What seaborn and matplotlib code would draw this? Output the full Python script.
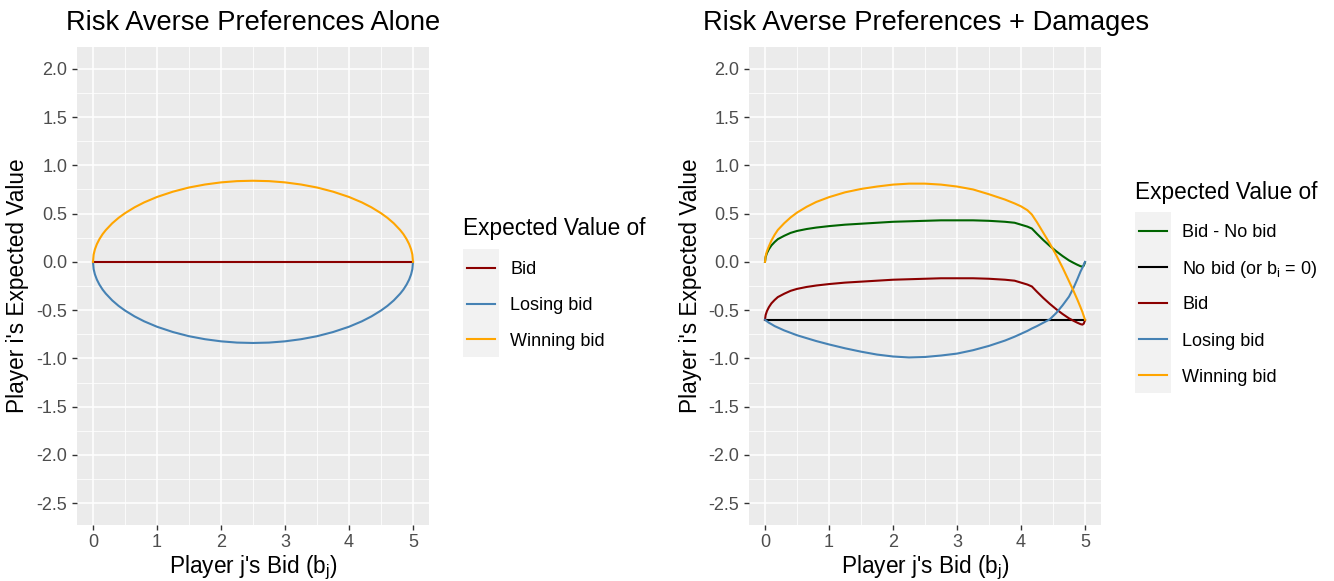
import numpy as np
import pandas as pd
import matplotlib
matplotlib.use("Agg")
import matplotlib.pyplot as plt
import seaborn as sns
from matplotlib.lines import Line2D
from matplotlib.patches import Rectangle

# ---------------- Left panel: risk averse preferences alone ----------------
bid_alone = [0, 0.01, 0.03, 0.06, 0.1, 0.15, 0.2, 0.3, 0.4, 0.5, 0.65, 0.8, 1.0,
             1.25, 1.5, 1.75, 2.0, 2.25, 2.5, 2.75, 3.0, 3.25, 3.5, 3.75, 4.0,
             4.2, 4.35, 4.5, 4.6, 4.7, 4.8, 4.85, 4.9, 4.94, 4.97, 4.99, 5.0]
winning_alone = [0.0, 0.075, 0.130, 0.183, 0.235, 0.287, 0.329, 0.399, 0.456, 0.504,
                 0.565, 0.616, 0.672, 0.727, 0.770, 0.801, 0.823, 0.836, 0.840,
                 0.836, 0.823, 0.801, 0.770, 0.727, 0.672, 0.616, 0.565, 0.504,
                 0.456, 0.399, 0.329, 0.287, 0.235, 0.183, 0.130, 0.075, 0.0]
losing_alone = [-0.0, -0.075, -0.130, -0.183, -0.235, -0.287, -0.329, -0.399, -0.456,
                -0.504, -0.565, -0.616, -0.672, -0.727, -0.770, -0.801, -0.823,
                -0.836, -0.840, -0.836, -0.823, -0.801, -0.770, -0.727, -0.672,
                -0.616, -0.565, -0.504, -0.456, -0.399, -0.329, -0.287, -0.235,
                -0.183, -0.130, -0.075, -0.0]
expected_alone = [0.0] * len(bid_alone)

# ---------------- Right panel: risk averse preferences + damages ----------------
bid_damages = [0, 0.01, 0.03, 0.06, 0.1, 0.15, 0.2, 0.3, 0.4, 0.5, 0.65, 0.8, 1.0,
               1.25, 1.5, 1.75, 2.0, 2.25, 2.5, 2.75, 3.0, 3.25, 3.5, 3.75, 3.9,
               4.0, 4.1, 4.17, 4.25, 4.35, 4.45, 4.55, 4.65, 4.75, 4.82, 4.88,
               4.93, 4.96, 4.98, 5.0]
bid_minus_nobid = [0.0, 0.05, 0.09, 0.13, 0.17, 0.205, 0.235, 0.27, 0.30, 0.32,
                   0.34, 0.355, 0.37, 0.385, 0.395, 0.405, 0.415, 0.42, 0.425,
                   0.43, 0.43, 0.43, 0.425, 0.415, 0.405, 0.385, 0.365, 0.345,
                   0.29, 0.225, 0.165, 0.11, 0.06, 0.015, -0.01, -0.03, -0.045,
                   -0.05, -0.04, -0.005]
no_bid = [-0.6] * len(bid_damages)
expected_damages = [-0.60, -0.55, -0.51, -0.47, -0.43, -0.395, -0.365, -0.33, -0.30,
                    -0.28, -0.26, -0.245, -0.23, -0.215, -0.205, -0.195, -0.185,
                    -0.18, -0.175, -0.17, -0.17, -0.17, -0.175, -0.185, -0.195,
                    -0.215, -0.235, -0.255, -0.31, -0.375, -0.435, -0.49, -0.54,
                    -0.585, -0.61, -0.63, -0.645, -0.65, -0.64, -0.605]
losing_damages = [-0.60, -0.605, -0.615, -0.63, -0.645, -0.665, -0.68, -0.71, -0.735,
                  -0.76, -0.79, -0.82, -0.855, -0.895, -0.93, -0.96, -0.98, -0.99,
                  -0.985, -0.97, -0.95, -0.915, -0.87, -0.815, -0.775, -0.745,
                  -0.715, -0.69, -0.665, -0.63, -0.595, -0.53, -0.45, -0.36, -0.27,
                  -0.18, -0.10, -0.06, -0.03, 0.0]
winning_damages = [0.0, 0.06, 0.11, 0.16, 0.22, 0.28, 0.33, 0.40, 0.46, 0.51, 0.57,
                   0.62, 0.67, 0.72, 0.755, 0.78, 0.80, 0.81, 0.81, 0.80, 0.78,
                   0.75, 0.70, 0.645, 0.605, 0.575, 0.535, 0.49, 0.41, 0.30, 0.19,
                   0.07, -0.06, -0.20, -0.30, -0.39, -0.47, -0.52, -0.56, -0.60]

x_ticks = [0, 1, 2, 3, 4, 5]
y_ticks = [2.0, 1.5, 1.0, 0.5, 0.0, -0.5, -1.0, -1.5, -2.0, -2.5]
y_tick_labels = ["2.0", "1.5", "1.0", "0.5", "0.0", "-0.5", "-1.0", "-1.5", "-2.0", "-2.5"]

NOBID = "No bid (or b$_{\\mathrm{i}}$ = 0)"
palette = {
    "Bid - No bid": "#006400",
    NOBID: "#000000",
    "Bid": "#8B0000",
    "Losing bid": "#4682B4",
    "Winning bid": "#FFA500",
}

left_df = pd.concat([
    pd.DataFrame({"bid": bid_alone, "value": expected_alone, "series": "Bid"}),
    pd.DataFrame({"bid": bid_alone, "value": losing_alone, "series": "Losing bid"}),
    pd.DataFrame({"bid": bid_alone, "value": winning_alone, "series": "Winning bid"}),
], ignore_index=True)

right_df = pd.concat([
    pd.DataFrame({"bid": bid_damages, "value": bid_minus_nobid, "series": "Bid - No bid"}),
    pd.DataFrame({"bid": bid_damages, "value": no_bid, "series": NOBID}),
    pd.DataFrame({"bid": bid_damages, "value": expected_damages, "series": "Bid"}),
    pd.DataFrame({"bid": bid_damages, "value": losing_damages, "series": "Losing bid"}),
    pd.DataFrame({"bid": bid_damages, "value": winning_damages, "series": "Winning bid"}),
], ignore_index=True)

plt.rcParams["font.family"] = ["Liberation Sans", "DejaVu Sans"]
plt.rcParams["mathtext.fontset"] = "custom"
plt.rcParams["mathtext.rm"] = "Liberation Sans"
plt.rcParams["mathtext.it"] = "Liberation Sans:italic"
plt.rcParams["axes.unicode_minus"] = False

W, H = 1334, 581
fig = plt.figure(figsize=(W / 100, H / 100), dpi=100)

TITLE_SIZE = 19.6
AXIS_TITLE_SIZE = 16.3
TICK_SIZE = 13
LEGEND_TITLE_SIZE = 16.3
LEGEND_TEXT_SIZE = 13


def fx(px):
    return px / W


def fy(py):
    return 1 - py / H


def style_axes(ax):
    ax.set_facecolor("#EBEBEB")
    for s in ax.spines.values():
        s.set_visible(False)
    ax.set_xlim(-0.25, 5.25)
    ax.set_ylim(-2.725, 2.225)
    ax.set_xticks(x_ticks)
    ax.set_xticklabels([str(t) for t in x_ticks])
    ax.set_yticks(y_ticks)
    ax.set_yticklabels(y_tick_labels)
    ax.set_xticks(np.arange(0.5, 5, 1.0), minor=True)
    ax.set_yticks(np.arange(-2.25, 2.0, 0.5), minor=True)
    ax.grid(which="major", color="white", linewidth=1.1)
    ax.grid(which="minor", color="white", linewidth=0.55)
    ax.set_axisbelow(True)
    ax.tick_params(which="major", length=3.5, width=1.0, color="#333333",
                   labelcolor="#4D4D4D", labelsize=TICK_SIZE)
    ax.tick_params(axis="y", pad=3.5)
    ax.tick_params(axis="x", pad=3)
    ax.tick_params(which="minor", length=0)
    ax.set_xlabel("")
    ax.set_ylabel("")


panels = [
    (77, left_df, ["Bid", "Losing bid", "Winning bid"], "Risk Averse Preferences Alone", 66, 18),
    (749, right_df, ["Bid - No bid", NOBID, "Bid", "Losing bid", "Winning bid"],
     "Risk Averse Preferences + Damages", 703, 690),
]

for left_px, df, order, title, title_x, ylab_x in panels:
    ax = fig.add_axes([fx(left_px), fy(525), 352 / W, 478 / H])
    sns.lineplot(data=df, x="bid", y="value", hue="series", hue_order=order,
                 palette=palette, sort=False, estimator=None, legend=False,
                 linewidth=1.5, ax=ax)
    style_axes(ax)
    fig.text(fx(title_x), fy(30), title, fontsize=TITLE_SIZE, ha="left", va="baseline")
    fig.text(fx(ylab_x), fy(286), "Player i's Expected Value", fontsize=AXIS_TITLE_SIZE,
             rotation=90, ha="center", va="center")
    fig.text(fx(left_px + 176), fy(573), "Player j's Bid (b$_{\\mathrm{j}}$)",
             fontsize=AXIS_TITLE_SIZE, ha="center", va="baseline")


def draw_legend(x0, title_base, first_y, step, labels):
    fig.text(fx(x0), fy(title_base), "Expected Value of", fontsize=LEGEND_TITLE_SIZE,
             ha="left", va="baseline")
    n = len(labels)
    top = first_y - 19
    bottom = first_y + (n - 1) * step + 18
    fig.add_artist(Rectangle((fx(x0), fy(bottom)), 36 / W, (bottom - top) / H,
                             transform=fig.transFigure, facecolor="#F2F2F2",
                             edgecolor="none"))
    for i, lab in enumerate(labels):
        yy = first_y + i * step
        fig.add_artist(Line2D([fx(x0 + 4), fx(x0 + 32)], [fy(yy), fy(yy)],
                              transform=fig.transFigure, color=palette[lab],
                              linewidth=1.5))
        fig.text(fx(x0 + 47), fy(yy + 6.5), lab, fontsize=LEGEND_TEXT_SIZE,
                 ha="left", va="baseline")


draw_legend(463, 235, 268, 35.5, ["Bid", "Losing bid", "Winning bid"])
draw_legend(1135, 199, 231, 36, ["Bid - No bid", NOBID, "Bid", "Losing bid", "Winning bid"])

fig.savefig("out.png", dpi=100)
